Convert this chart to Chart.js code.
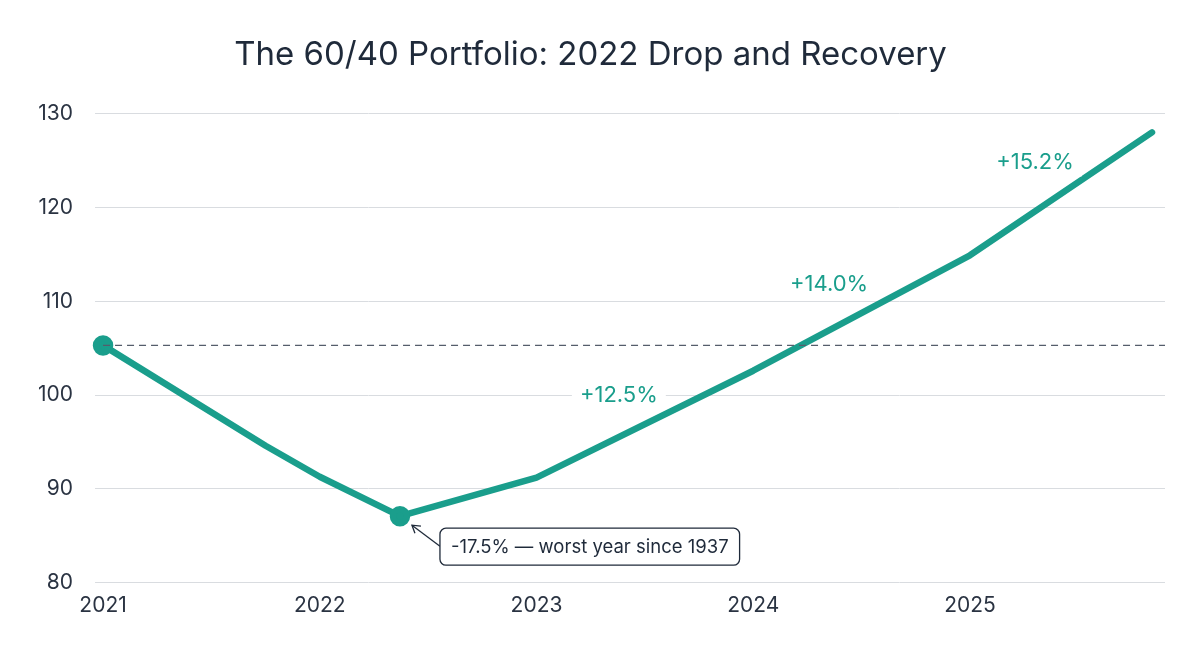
<!DOCTYPE html>
<html><head><meta charset="utf-8">
<script src="https://cdn.jsdelivr.net/npm/chart.js@4"></script>
<style>html,body{margin:0;background:#fff}#w{width:1200px;height:654px}</style>
</head><body><div id="w"><canvas id="c"></canvas></div>
<script>
const xYears = [2021, 2021.75, 2022, 2022.37, 2023, 2024, 2025, 2025.84];
const values = [105.3, 94.6, 91.3, 87.1, 91.2, 102.6, 114.9, 128.0];
const pointSizes = [7, 0, 0, 7, 0, 0, 0, 0];
const baseline = 105.3;
const gainLabels = [{x:2023.38, y:100.0, t:'+12.5%'}, {x:2024.35, y:111.8, t:'+14.0%'}, {x:2025.3, y:124.8, t:'+15.2%'}];
const callout = {x:2022.37, y:87.1, t:'-17.5% — worst year since 1937'};
const teal = '#1a9e8c';
const F = 'Inter, "Noto Sans", sans-serif';

const annot = {
  id:'annot',
  afterDatasetsDraw(ch){
    const {ctx, scales:{x,y}, chartArea:a} = ch;
    ctx.save();
    ctx.strokeStyle='#555d6b'; ctx.lineWidth=1.3; ctx.setLineDash([7,5]);
    ctx.beginPath(); ctx.moveTo(a.left, y.getPixelForValue(baseline)); ctx.lineTo(a.right, y.getPixelForValue(baseline)); ctx.stroke();
    ctx.setLineDash([]);
    ctx.font='22px '+F; ctx.textAlign='center'; ctx.textBaseline='middle';
    gainLabels.forEach(g=>{
      const px=x.getPixelForValue(g.x), py=y.getPixelForValue(g.y);
      const w=ctx.measureText(g.t).width;
      ctx.fillStyle='#fff'; ctx.fillRect(px-w/2-8, py-14, w+16, 28);
      ctx.fillStyle=teal; ctx.fillText(g.t, px, py);
    });
    const px=x.getPixelForValue(callout.x), py=y.getPixelForValue(callout.y);
    ctx.font='18.5px '+F;
    const w=ctx.measureText(callout.t).width;
    const bx=px+40, by=py+12, bw=w+22, bh=37;
    ctx.strokeStyle='#1f2a3a'; ctx.lineWidth=1.3;
    ctx.beginPath(); ctx.moveTo(bx, by+18); ctx.lineTo(px+12, py+9); ctx.stroke();
    ctx.beginPath(); ctx.moveTo(px+12+9, py+9+1); ctx.lineTo(px+12, py+9); ctx.lineTo(px+12+3, py+9+8); ctx.stroke();
    ctx.fillStyle='#fff'; ctx.beginPath(); ctx.roundRect(bx, by, bw, bh, 6); ctx.fill(); ctx.stroke();
    ctx.fillStyle='#1f2a3a'; ctx.textAlign='left'; ctx.fillText(callout.t, bx+11, by+bh/2+1);
    ctx.restore();
  }
};

new Chart(document.getElementById('c'), {
  type:'line',
  data:{datasets:[{data:xYears.map((v,i)=>({x:v,y:values[i]})), borderColor:teal, backgroundColor:teal, borderWidth:6.5, pointRadius:pointSizes, pointHoverRadius:pointSizes, tension:0, borderCapStyle:'round', borderJoinStyle:'round', clip:false}]},
  options:{
    responsive:true, maintainAspectRatio:false, animation:false,
    layout:{padding:{left:16, right:35, top:11, bottom:34}},
    plugins:{legend:{display:false}, tooltip:{enabled:false},
      title:{display:true, text:'The 60/40 Portfolio: 2022 Drop and Recovery', color:'#1f2a3a', font:{family:F, size:33, weight:'normal'}, padding:{top:24, bottom:39}}},
    scales:{
      x:{type:'linear', min:2021, max:2025.9, grid:{display:false}, border:{display:false},
         ticks:{stepSize:1, color:'#2a3342', font:{family:F, size:21}, callback:v=>Number.isInteger(v)?String(v):'', padding:2}},
      y:{min:80, max:130, grid:{color:'#d9dce0', lineWidth:1}, border:{display:false},
         ticks:{stepSize:10, color:'#2a3342', font:{family:F, size:21}, padding:22}}
    }
  },
  plugins:[annot]
});
</script></body></html>
